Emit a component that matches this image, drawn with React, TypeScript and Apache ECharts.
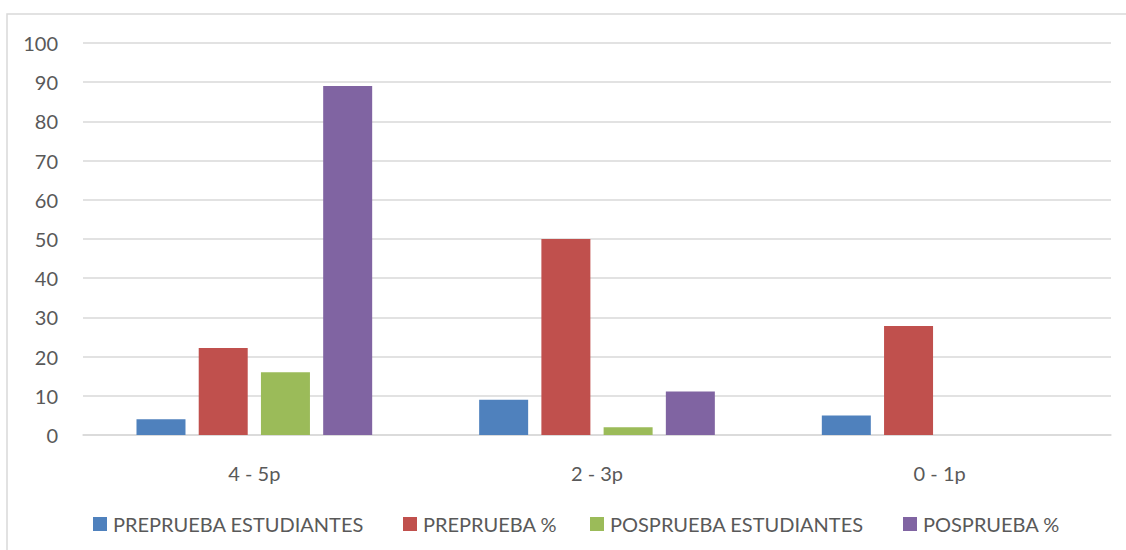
import React, { useEffect, useRef } from "react";
import * as echarts from "echarts";

const categories = ["4 - 5p", "2 - 3p", "0 - 1p"];
const seriesNames = ["PREPRUEBA ESTUDIANTES", "PREPRUEBA %", "POSPRUEBA ESTUDIANTES", "POSPRUEBA %"];
const preEstudiantes = [4, 9, 5];
const prePct = [22.2, 50, 27.8];
const posEstudiantes = [16, 2, 0];
const posPct = [89, 11.1, 0];
const colors = ["#4F81BD", "#C0504D", "#9BBB59", "#8064A2"];
const legendLefts = [93, 403, 590, 903];

const FONT = "Lato, 'Liberation Sans', sans-serif";

export default function App() {
  const ref = useRef<HTMLDivElement>(null);
  useEffect(() => {
    if (!ref.current) return;
    const chart = echarts.init(ref.current, undefined, { renderer: "svg" });
    const data = [preEstudiantes, prePct, posEstudiantes, posPct];
    chart.setOption({
      animation: false,
      backgroundColor: "#ffffff",
      textStyle: { fontFamily: FONT },
      graphic: [
        {
          type: "rect",
          shape: { x: 7, y: 14, width: 1140, height: 560 },
          style: { fill: "none", stroke: "#d9d9d9", lineWidth: 1.5 },
          silent: true,
        },
      ],
      grid: { left: 83, right: 15, top: 43, bottom: 115, containLabel: false },
      legend: seriesNames.map((name, i) => ({
        left: legendLefts[i],
        top: 514,
        padding: 0,
        icon: "rect",
        itemWidth: 14,
        itemHeight: 14,
        textStyle: { fontSize: 20, color: "#595959", fontFamily: FONT, padding: [3, 0, 0, 1] },
        data: [name],
      })),
      xAxis: {
        type: "category",
        data: categories,
        axisLine: { lineStyle: { color: "#d9d9d9", width: 1.5 } },
        axisTick: { show: false },
        axisLabel: { fontSize: 20, color: "#595959", margin: 28, fontFamily: FONT },
      },
      yAxis: {
        type: "value",
        min: 0,
        max: 100,
        interval: 10,
        axisLine: { show: false },
        axisTick: { show: false },
        axisLabel: { fontSize: 20, color: "#595959", margin: 25, fontFamily: FONT },
        splitLine: { lineStyle: { color: "#d9d9d9", width: 1.5 } },
      },
      series: seriesNames.map((name, i) => ({
        name,
        type: "bar",
        data: data[i],
        barWidth: 49,
        barGap: "27%",
        itemStyle: { color: colors[i] },
      })),
    });
    return () => chart.dispose();
  }, []);
  return <div ref={ref} style={{ position: "absolute", left: 0, top: 0, width: 1126, height: 550 }} />;
}
